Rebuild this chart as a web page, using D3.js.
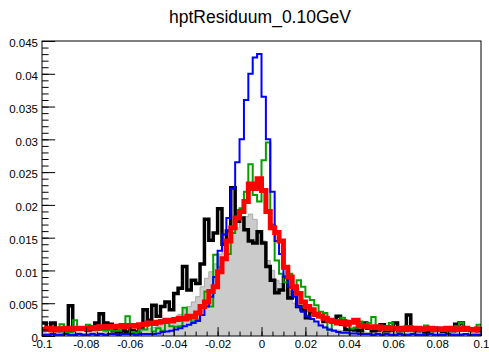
<!DOCTYPE html>
<html>
<head>
<meta charset="utf-8">
<script src="https://cdn.jsdelivr.net/npm/d3@7"></script>
<style>
  body { margin: 0; background: #fff; }
  svg { display: block; font-family: "Liberation Sans", Arial, sans-serif; }
</style>
</head>
<body>
<div id="chart"></div>
<script>
// histogram contents, 100 bins from -0.1 to 0.1, values in units of 1e-3
const UNIT = 1e-3;
const xMin = -0.1, xMax = 0.1, nBins = 100;

const grayRef = [
  0.5,0.4,0.5,0.5,0.4,0.5,0.6,0.5,0.5,0.4,
  0.5,0.5,0.6,0.5,0.5,0.6,0.6,0.5,0.6,0.6,
  0.7,0.8,0.8,1.0,1.1,1.3,1.5,1.8,2.0,2.4,
  2.8,3.3,4.0,4.5,5.2,6.0,7.5,8.8,9.8,11.0,
  12.5,13.8,14.8,15.8,16.5,17.5,18.2,18.6,17.8,16.0,
  14.5,11.5,10.0,8.5,8.0,7.0,6.0,5.0,4.3,3.6,
  3.2,2.7,2.2,1.8,1.5,1.2,1.0,0.9,0.8,0.7,
  0.6,0.6,0.5,0.6,0.5,0.5,0.6,0.5,0.5,0.5,
  0.5,0.5,0.4,0.5,0.5,0.4,0.5,0.5,0.4,0.5,
  0.4,0.5,0.4,0.4,0.5,0.4,0.4,0.5,0.4,0.4
];

const blackData = [
  2.0,1.2,2.0,0.9,0.8,0.8,4.6,1.2,1.2,1.2,
  0.9,1.0,2.0,3.4,2.0,1.8,0.8,0.6,0.8,0.6,
  0.8,0.6,1.2,4.0,2.4,4.7,3.0,4.5,5.2,4.0,
  6.5,7.3,10.6,7.0,8.5,8.0,11.0,17.8,14.6,15.7,
  19.4,14.0,16.0,22.6,17.5,18.0,16.2,14.5,14.2,15.9,
  14.2,10.6,8.5,6.6,7.0,9.0,5.8,6.8,4.5,4.0,
  2.8,3.7,3.2,3.0,2.2,2.4,2.2,3.0,1.8,1.0,
  1.0,0.9,0.8,2.0,1.2,0.8,0.9,1.7,0.8,0.9,
  2.0,0.8,1.0,3.2,0.9,0.8,0.9,0.6,0.8,1.2,
  1.0,0.7,1.2,0.8,1.8,2.0,1.0,0.9,1.0,0.8
];

const greenData = [
  0.8,0.8,0.9,1.2,1.8,0.6,0.6,2.4,1.2,1.0,
  1.7,1.2,0.9,0.9,0.8,0.9,0.8,0.8,1.2,3.0,
  0.6,0.5,1.0,1.0,1.8,0.7,1.2,0.8,2.0,1.5,
  1.4,1.5,4.3,2.5,2.2,2.5,4.5,6.8,4.5,12.4,
  10.5,11.8,12.5,15.7,18.0,19.5,22.0,26.2,21.5,20.5,
  26.8,29.5,17.0,11.5,9.5,8.2,9.5,7.0,8.5,7.5,
  6.0,5.5,4.7,3.7,3.5,0.9,2.4,2.2,2.8,2.0,
  1.1,1.3,2.2,1.7,2.0,2.9,1.2,1.1,0.9,2.0,
  0.9,0.8,0.9,0.8,0.8,0.9,1.2,1.6,0.9,0.9,
  0.8,0.9,0.8,1.0,1.5,2.0,1.0,0.9,0.8,1.7
];

const blueData = [
  0.2,0.2,0.3,0.2,0.2,0.3,0.2,0.2,0.3,0.2,
  0.2,0.3,0.2,0.3,0.2,0.3,0.3,0.2,0.3,0.3,
  0.3,0.2,0.3,0.3,0.3,0.3,0.4,0.6,0.7,0.8,
  1.0,1.2,1.5,1.7,2.0,2.3,3.2,4.5,6.0,9.0,
  13.0,15.5,18.0,22.5,26.5,30.0,36.0,40.0,42.5,43.0,
  36.5,30.0,22.0,14.5,12.5,9.0,7.5,6.0,4.5,3.7,
  3.0,2.6,2.2,1.6,1.3,1.0,0.8,0.6,0.5,0.5,
  0.4,0.4,0.3,0.3,0.3,0.2,0.3,0.2,0.3,0.2,
  0.2,0.3,0.2,0.2,0.3,0.2,0.2,0.2,0.3,0.2,
  0.2,0.2,0.3,0.2,0.2,0.2,0.3,0.2,0.2,0.2
];

const redData = [
  1.0,1.2,0.9,1.1,1.0,1.2,1.0,1.1,1.2,1.1,
  1.2,1.3,1.2,1.4,1.3,1.5,1.4,1.5,1.6,1.4,
  1.6,1.5,1.7,1.8,2.0,1.9,2.1,2.2,2.4,2.3,
  2.5,2.7,2.6,3.0,2.9,3.5,4.5,5.2,6.8,7.5,
  9.8,11.8,14.5,16.5,18.0,19.0,20.5,23.2,22.5,24.0,
  22.2,19.0,16.5,15.8,14.5,10.5,9.0,7.5,6.5,5.2,
  4.5,4.0,3.3,3.0,2.7,2.4,2.2,2.0,2.2,1.8,
  2.1,2.4,1.6,1.5,1.4,1.3,1.4,1.2,1.3,1.2,
  1.1,1.2,1.0,1.3,1.1,1.2,1.0,1.1,1.2,1.0,
  1.1,1.0,1.2,1.0,1.1,1.0,1.2,1.0,0.9,1.1
];

const xTicks = [-0.1, -0.08, -0.06, -0.04, -0.02, 0, 0.02, 0.04, 0.06, 0.08, 0.1];
const xTickLabels = ["-0.1","-0.08","-0.06","-0.04","-0.02","0","0.02","0.04","0.06","0.08","0.1"];
const yTicks = [0, 0.005, 0.01, 0.015, 0.02, 0.025, 0.03, 0.035, 0.04, 0.045];
const yTickLabels = ["0","0.005","0.01","0.015","0.02","0.025","0.03","0.035","0.04","0.045"];

const title = "hptResiduum_0.10GeV";

var width = 489, height = 352;
var margin = {top: 41, right: 8, bottom: 16, left: 42};

var svg = d3.select("#chart")
  .append("svg")
  .attr("width", width)
  .attr("height", height);

var x = d3.scaleLinear()
  .domain([xMin, xMax])
  .range([margin.left, width - margin.right]);

var y = d3.scaleLinear()
  .domain([0, 0.045])
  .range([height - margin.bottom, margin.top]);

svg.append("defs").append("clipPath")
  .attr("id", "plot")
  .append("rect")
  .attr("x", x(xMin)).attr("y", y(0.045))
  .attr("width", x(xMax) - x(xMin)).attr("height", y(0) - y(0.045));

var binW = (xMax - xMin) / nBins;

function steps(vals) {
  var pts = vals.map((v, i) => [xMin + i * binW, v * UNIT]);
  pts.push([xMax, vals[vals.length - 1] * UNIT]);
  return pts;
}

var line = d3.line()
  .x(d => x(d[0]))
  .y(d => y(d[1]))
  .curve(d3.curveStepAfter);

var area = d3.area()
  .x(d => x(d[0]))
  .y0(y(0))
  .y1(d => y(d[1]))
  .curve(d3.curveStepAfter);

var g = svg.append("g").attr("clip-path", "url(#plot)");

g.append("path")
  .attr("d", area(steps(grayRef)))
  .attr("fill", "#cbcbcb")
  .attr("stroke", "none");
g.append("path")
  .attr("d", line(steps(grayRef)))
  .attr("fill", "none")
  .attr("stroke", "#a8a8a8")
  .attr("stroke-width", 1);

var series = [
  {vals: blackData, color: "#000000", w: 3.5},
  {vals: greenData, color: "#00a000", w: 2},
  {vals: blueData, color: "#0000ff", w: 2},
  {vals: redData, color: "#ff0000", w: 5}
];

series.forEach(s => {
  g.append("path")
    .attr("d", line(steps(s.vals)))
    .attr("fill", "none")
    .attr("stroke", s.color)
    .attr("stroke-width", s.w)
    .attr("stroke-linejoin", "miter");
});

// axes, ticks drawn inward like ROOT
var plotH = y(0) - y(0.045), plotW = x(xMax) - x(xMin);

var xMinor = svg.append("g")
  .attr("transform", "translate(0," + y(0) + ")")
  .call(d3.axisBottom(x).tickValues(x.ticks(40)).tickSize(-plotH * 0.015).tickFormat(""));
var xAxis = svg.append("g")
  .attr("transform", "translate(0," + y(0) + ")")
  .call(d3.axisBottom(x).tickValues(xTicks).tickSize(-plotH * 0.03).tickPadding(4)
    .tickFormat((d, i) => xTickLabels[i]));

var yMinor = svg.append("g")
  .attr("transform", "translate(" + x(xMin) + ",0)")
  .call(d3.axisLeft(y).tickValues(y.ticks(45)).tickSize(-plotW * 0.015).tickFormat(""));
var yAxis = svg.append("g")
  .attr("transform", "translate(" + x(xMin) + ",0)")
  .call(d3.axisLeft(y).tickValues(yTicks).tickSize(-plotW * 0.03).tickPadding(4)
    .tickFormat((d, i) => yTickLabels[i]));

[xMinor, xAxis, yMinor, yAxis].forEach(a => {
  a.select(".domain").remove();
  a.selectAll("line").attr("stroke", "#000").attr("stroke-width", 1);
  a.selectAll("text").attr("fill", "#000").style("font-size", "11.5px")
    .style("font-family", "'Liberation Sans', Arial, sans-serif");
});
yAxis.selectAll("text").attr("dy", "0.5em");

svg.append("rect")
  .attr("x", x(xMin)).attr("y", y(0.045))
  .attr("width", plotW).attr("height", plotH)
  .attr("fill", "none")
  .attr("stroke", "#000")
  .attr("stroke-width", 1);

svg.append("text")
  .attr("x", 260)
  .attr("y", 23)
  .attr("text-anchor", "middle")
  .style("font-size", "17.5px")
  .text(title);
</script>
</body>
</html>
